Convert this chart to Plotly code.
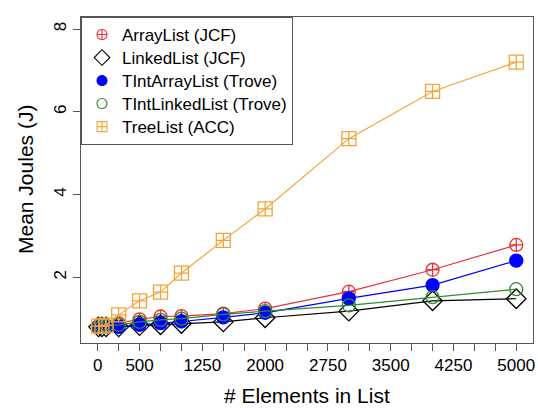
import plotly.graph_objects as go

x = [10, 50, 100, 250, 500, 750, 1000, 1500, 2000, 3000, 4000, 5000]

array_list = [0.82, 0.82, 0.83, 0.89, 0.98, 1.05, 1.06, 1.12, 1.24, 1.65, 2.18, 2.78]
linked_list = [0.80, 0.80, 0.80, 0.80, 0.83, 0.85, 0.88, 0.92, 1.02, 1.18, 1.43, 1.48]
tint_array = [0.80, 0.80, 0.80, 0.80, 0.85, 0.89, 0.93, 1.03, 1.14, 1.49, 1.81, 2.40]
tint_linked = [0.81, 0.81, 0.82, 0.85, 0.92, 0.97, 1.00, 1.10, 1.18, 1.32, 1.52, 1.71]
tree_list = [0.82, 0.82, 0.84, 1.09, 1.43, 1.64, 2.10, 2.89, 3.65, 5.35, 6.49, 7.20]

series = [
    ("ArrayList (JCF)", array_list, "#E8323A", "circle-cross-open", 13),
    ("LinkedList (JCF)", linked_list, "#000000", "diamond-open", 15),
    ("TIntArrayList (Trove)", tint_array, "#0000FF", "circle", 13),
    ("TIntLinkedList (Trove)", tint_linked, "#2E8B2E", "circle-open", 13),
    ("TreeList (ACC)", tree_list, "#F2A53A", "square-cross-open", 14),
]

x_tickvals = list(range(0, 5001, 250))
shown = {0, 500, 1250, 2000, 2750, 3500, 4250, 5000}
x_ticktext = [str(v) if v in shown else "" for v in x_tickvals]

fig = go.Figure()
for name, ys, color, sym, size in series:
    fig.add_trace(go.Scatter(
        x=x, y=ys, mode="lines+markers", name=name, showlegend=False,
        line=dict(color=color, width=1.2),
        marker=dict(symbol=sym, size=size, color=color, line=dict(color=color, width=1.3)),
    ))
for name, ys, color, sym, size in series:
    fig.add_trace(go.Scatter(
        x=[None], y=[None], mode="markers",
        name='<span style="font-size:17px">' + name + "</span>",
        marker=dict(symbol=sym, size=10 if sym != "diamond-open" else 12,
                    color=color, line=dict(color=color, width=1.1)),
    ))

axis_common = dict(
    showline=True, mirror=True, linecolor="#555555", linewidth=1,
    ticks="outside", ticklen=7, tickcolor="#555555", tickwidth=1,
    showgrid=False, zeroline=False, automargin=False,
    tickfont=dict(size=17, color="#000000"),
)

fig.update_layout(
    width=538, height=408,
    margin=dict(l=81, r=5, t=17, b=65),
    paper_bgcolor="white", plot_bgcolor="white",
    font=dict(family="Liberation Sans, Arial, sans-serif", color="#000000"),
    xaxis=dict(range=[-200, 5200], tickvals=x_tickvals, ticktext=x_ticktext,
               **axis_common),
    yaxis=dict(range=[0.41, 8.29], tickvals=[2, 4, 6, 8], tickangle=-90,
               **axis_common),
    legend=dict(x=0, y=1, xanchor="left", yanchor="top",
                bordercolor="#555555", borderwidth=1, bgcolor="white",
                font=dict(size=15.4), tracegroupgap=0, itemwidth=30),
    annotations=[
        dict(text="# Elements in List", xref="paper", yref="paper", x=0.5, y=0,
             yshift=-52, yanchor="middle", showarrow=False, font=dict(size=21)),
        dict(text="Mean Joules (J)", xref="paper", yref="paper", x=0, y=0.5,
             xshift=-56, xanchor="center", textangle=-90, showarrow=False,
             font=dict(size=21)),
    ],
)

fig.write_html("out.html", config={"displayModeBar": False},
               post_script="document.body.style.margin='0';")
